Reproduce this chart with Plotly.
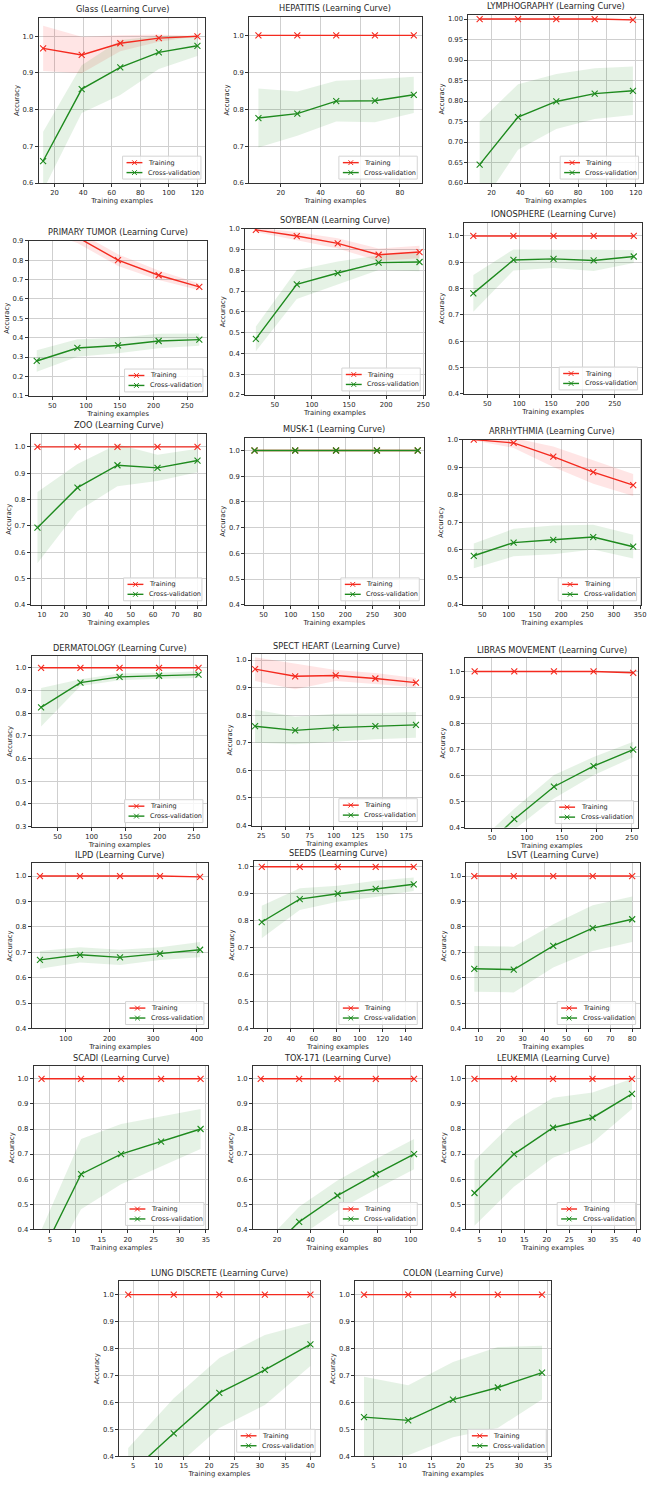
import plotly.graph_objects as go

# ---------------- data ----------------
glass_x = [12, 39, 66, 93, 120]
glass_train = [0.967, 0.949, 0.981, 0.995, 1.0]
glass_train_std = [0.062, 0.05, 0.022, 0.01, 0.0]
glass_cv = [0.66, 0.856, 0.915, 0.956, 0.974]
glass_cv_std = [0.08, 0.065, 0.075, 0.045, 0.028]

hep_x = [8.7, 28.3, 47.9, 67.4, 87]
hep_train = [1.0, 1.0, 1.0, 1.0, 1.0]
hep_train_std = [0.0, 0.0, 0.0, 0.0, 0.0]
hep_cv = [0.776, 0.788, 0.822, 0.823, 0.839]
hep_cv_std = [0.08, 0.06, 0.055, 0.058, 0.049]

lym_x = [11.8, 38.4, 64.9, 91.5, 118]
lym_train = [1.0, 1.0, 1.0, 1.0, 0.998]
lym_train_std = [0.0, 0.0, 0.0, 0.0, 0.003]
lym_cv = [0.645, 0.761, 0.799, 0.818, 0.825]
lym_cv_std = [0.105, 0.08, 0.067, 0.062, 0.059]

pt_x = [26.8, 87.1, 147.4, 207.7, 268]
pt_train = [0.99, 0.918, 0.80, 0.722, 0.662]
pt_train_std = [0.03, 0.03, 0.03, 0.025, 0.017]
pt_cv = [0.28, 0.347, 0.36, 0.383, 0.39]
pt_cv_std = [0.055, 0.045, 0.04, 0.037, 0.032]

soy_x = [24.5, 79.6, 134.8, 189.9, 245]
soy_train = [0.995, 0.965, 0.93, 0.875, 0.888]
soy_train_std = [0.01, 0.02, 0.025, 0.03, 0.03]
soy_cv = [0.47, 0.732, 0.787, 0.837, 0.84]
soy_cv_std = [0.06, 0.07, 0.055, 0.035, 0.045]

ion_x = [28, 91, 154, 217, 280]
ion_train = [1.0, 1.0, 1.0, 1.0, 1.0]
ion_train_std = [0.0, 0.0, 0.0, 0.0, 0.0]
ion_cv = [0.782, 0.909, 0.913, 0.907, 0.922]
ion_cv_std = [0.07, 0.04, 0.035, 0.04, 0.025]

zoo_x = [8, 26, 44, 62, 80]
zoo_train = [1.0, 1.0, 1.0, 1.0, 1.0]
zoo_train_std = [0.0, 0.0, 0.0, 0.0, 0.0]
zoo_cv = [0.693, 0.845, 0.93, 0.92, 0.948]
zoo_cv_std = [0.135, 0.09, 0.08, 0.05, 0.045]

musk_x = [33.3, 108, 183, 258, 333]
musk_train = [1.0, 1.0, 1.0, 1.0, 1.0]
musk_train_std = [0.0, 0.0, 0.0, 0.0, 0.0]
musk_cv = [1.0, 1.0, 1.0, 1.0, 1.0]
musk_cv_std = [0.0, 0.0, 0.0, 0.0, 0.0]

arr_x = [33.7, 109.5, 185, 261, 337]
arr_train = [1.0, 0.988, 0.938, 0.882, 0.835]
arr_train_std = [0.003, 0.018, 0.037, 0.042, 0.04]
arr_cv = [0.578, 0.626, 0.636, 0.646, 0.611]
arr_cv_std = [0.045, 0.05, 0.052, 0.045, 0.043]

derm_x = [25.7, 83.5, 141, 199, 257]
derm_train = [1.0, 1.0, 1.0, 1.0, 1.0]
derm_train_std = [0.0, 0.0, 0.0, 0.0, 0.0]
derm_cv = [0.826, 0.935, 0.96, 0.965, 0.97]
derm_cv_std = [0.085, 0.015, 0.015, 0.013, 0.015]

spect_x = [18.5, 60, 102, 143, 185]
spect_train = [0.967, 0.941, 0.944, 0.933, 0.918]
spect_train_std = [0.043, 0.047, 0.02, 0.02, 0.017]
spect_cv = [0.76, 0.745, 0.755, 0.76, 0.765]
spect_cv_std = [0.06, 0.05, 0.05, 0.047, 0.047]

lib_x = [25.2, 81.9, 138.6, 195.3, 252]
lib_train = [1.0, 1.0, 1.0, 1.0, 0.995]
lib_train_std = [0.0, 0.0, 0.0, 0.0, 0.0]
lib_cv = [0.29, 0.432, 0.557, 0.636, 0.70]
lib_cv_std = [0.04, 0.04, 0.045, 0.035, 0.03]

ilpd_x = [40.8, 132.6, 224.4, 316, 408]
ilpd_train = [1.0, 1.0, 1.0, 1.0, 0.997]
ilpd_train_std = [0.0, 0.0, 0.0, 0.0, 0.002]
ilpd_cv = [0.67, 0.69, 0.68, 0.695, 0.71]
ilpd_cv_std = [0.035, 0.03, 0.03, 0.025, 0.03]

seeds_x = [14.7, 47.8, 80.9, 113.9, 147]
seeds_train = [1.0, 1.0, 1.0, 1.0, 1.0]
seeds_train_std = [0.0, 0.0, 0.0, 0.0, 0.0]
seeds_cv = [0.795, 0.88, 0.90, 0.918, 0.935]
seeds_cv_std = [0.06, 0.04, 0.03, 0.03, 0.025]

lsvt_x = [8, 26, 44, 62, 80]
lsvt_train = [1.0, 1.0, 1.0, 1.0, 1.0]
lsvt_train_std = [0.0, 0.0, 0.0, 0.0, 0.0]
lsvt_cv = [0.635, 0.632, 0.725, 0.795, 0.83]
lsvt_cv_std = [0.09, 0.09, 0.085, 0.09, 0.09]

scadi_x = [3.4, 11, 18.7, 26.4, 34]
scadi_train = [1.0, 1.0, 1.0, 1.0, 1.0]
scadi_train_std = [0.0, 0.0, 0.0, 0.0, 0.0]
scadi_cv = [0.30, 0.62, 0.70, 0.75, 0.80]
scadi_cv_std = [0.1, 0.14, 0.12, 0.1, 0.08]

tox_x = [10.2, 33.2, 56.1, 79.1, 102]
tox_train = [1.0, 1.0, 1.0, 1.0, 1.0]
tox_train_std = [0.0, 0.0, 0.0, 0.0, 0.0]
tox_cv = [0.28, 0.43, 0.535, 0.62, 0.70]
tox_cv_std = [0.05, 0.06, 0.06, 0.06, 0.06]

leuk_x = [3.9, 12.7, 21.4, 30.2, 39]
leuk_train = [1.0, 1.0, 1.0, 1.0, 1.0]
leuk_train_std = [0.0, 0.0, 0.0, 0.0, 0.0]
leuk_cv = [0.545, 0.70, 0.805, 0.845, 0.94]
leuk_cv_std = [0.13, 0.13, 0.12, 0.1, 0.06]

lung_x = [4, 13, 22, 31, 40]
lung_train = [1.0, 1.0, 1.0, 1.0, 1.0]
lung_train_std = [0.0, 0.0, 0.0, 0.0, 0.0]
lung_cv = [0.33, 0.485, 0.635, 0.72, 0.815]
lung_cv_std = [0.1, 0.13, 0.13, 0.13, 0.08]

colon_x = [3.4, 11, 18.7, 26.4, 34]
colon_train = [1.0, 1.0, 1.0, 1.0, 1.0]
colon_train_std = [0.0, 0.0, 0.0, 0.0, 0.0]
colon_cv = [0.545, 0.533, 0.61, 0.655, 0.71]
colon_cv_std = [0.15, 0.13, 0.14, 0.15, 0.1]

# tick values
yt_01 = [0.6, 0.7, 0.8, 0.9, 1.0]
yt_005 = [0.60, 0.65, 0.70, 0.75, 0.80, 0.85, 0.90, 0.95, 1.00]
yt_pt = [0.1, 0.2, 0.3, 0.4, 0.5, 0.6, 0.7, 0.8, 0.9]
yt_soy = [0.2, 0.3, 0.4, 0.5, 0.6, 0.7, 0.8, 0.9, 1.0]
yt_04 = [0.4, 0.5, 0.6, 0.7, 0.8, 0.9, 1.0]
yt_03 = [0.3, 0.4, 0.5, 0.6, 0.7, 0.8, 0.9, 1.0]

titles = ["Glass (Learning Curve)", "HEPATITIS (Learning Curve)", "LYMPHOGRAPHY (Learning Curve)",
          "PRIMARY TUMOR (Learning Curve)", "SOYBEAN (Learning Curve)", "IONOSPHERE (Learning Curve)",
          "ZOO (Learning Curve)", "MUSK-1 (Learning Curve)", "ARRHYTHMIA (Learning Curve)",
          "DERMATOLOGY (Learning Curve)", "SPECT HEART (Learning Curve)", "LIBRAS MOVEMENT (Learning Curve)",
          "ILPD (Learning Curve)", "SEEDS (Learning Curve)", "LSVT (Learning Curve)",
          "SCADI (Learning Curve)", "TOX-171 (Learning Curve)", "LEUKEMIA (Learning Curve)",
          "LUNG DISCRETE (Learning Curve)", "COLON (Learning Curve)"]
legend_labels = ["Training", "Cross-validation"]

series = [
    (glass_x, glass_train, glass_train_std, glass_cv, glass_cv_std),
    (hep_x, hep_train, hep_train_std, hep_cv, hep_cv_std),
    (lym_x, lym_train, lym_train_std, lym_cv, lym_cv_std),
    (pt_x, pt_train, pt_train_std, pt_cv, pt_cv_std),
    (soy_x, soy_train, soy_train_std, soy_cv, soy_cv_std),
    (ion_x, ion_train, ion_train_std, ion_cv, ion_cv_std),
    (zoo_x, zoo_train, zoo_train_std, zoo_cv, zoo_cv_std),
    (musk_x, musk_train, musk_train_std, musk_cv, musk_cv_std),
    (arr_x, arr_train, arr_train_std, arr_cv, arr_cv_std),
    (derm_x, derm_train, derm_train_std, derm_cv, derm_cv_std),
    (spect_x, spect_train, spect_train_std, spect_cv, spect_cv_std),
    (lib_x, lib_train, lib_train_std, lib_cv, lib_cv_std),
    (ilpd_x, ilpd_train, ilpd_train_std, ilpd_cv, ilpd_cv_std),
    (seeds_x, seeds_train, seeds_train_std, seeds_cv, seeds_cv_std),
    (lsvt_x, lsvt_train, lsvt_train_std, lsvt_cv, lsvt_cv_std),
    (scadi_x, scadi_train, scadi_train_std, scadi_cv, scadi_cv_std),
    (tox_x, tox_train, tox_train_std, tox_cv, tox_cv_std),
    (leuk_x, leuk_train, leuk_train_std, leuk_cv, leuk_cv_std),
    (lung_x, lung_train, lung_train_std, lung_cv, lung_cv_std),
    (colon_x, colon_train, colon_train_std, colon_cv, colon_cv_std),
]

yticks = [yt_01, yt_01, yt_005, yt_pt, yt_soy, yt_04, yt_04, yt_04, yt_04, yt_03,
          yt_04, yt_04, yt_04, yt_04, yt_04, yt_04, yt_04, yt_04, yt_04, yt_04]
xdticks = [20, 20, 20, 50, 50, 50, 10, 50, 50, 50, 25, 50, 100, 20, 10, 5, 20, 5, 5, 5]

# ---------------- layout (pixel boxes: left, right, top, bottom) ----------------
W, H = 653, 1492
boxes = [
    (39, 207, 14, 180), (251, 425, 13, 180), (472, 648, 11, 180),
    (29, 209, 238, 394), (247, 428, 226, 393), (468, 647, 220, 392),
    (31, 208, 432, 604), (247, 427, 436, 604), (467, 646, 438, 604),
    (32, 209, 656, 827), (254, 425, 654, 826), (469, 643, 658, 828),
    (32, 210, 864, 1030), (256, 425, 862, 1030), (470, 645, 864, 1030),
    (34, 210, 1068, 1232), (255, 425, 1068, 1232), (470, 645, 1068, 1232),
    (120, 322, 1284, 1460), (358, 555, 1284, 1460),
]
xranges = [(8.9, 125.6), (4, 91), (4, 125), (15, 280), (10, 252), (14, 293),
           (5, 84), (16, 344), (14, 352), (12, 270), (15.4, 191), (12, 259),
           (22, 427), (8, 154), (4.4, 83.6), (1.9, 35.5), (5.6, 106.6), (2.1, 40.8),
           (2.2, 41.8), (1.9, 35.5)]
yranges = [(0.6, 1.05), (0.6, 1.05), (0.6, 1.01), (0.1, 0.9), (0.2, 1.0), (0.4, 1.05),
           (0.4, 1.05), (0.4, 1.05), (0.4, 1.0), (0.3, 1.05), (0.4, 1.02), (0.4, 1.05),
           (0.4, 1.05), (0.4, 1.02), (0.4, 1.05), (0.4, 1.05), (0.4, 1.05), (0.4, 1.05),
           (0.4, 1.05), (0.4, 1.05)]

RED = "#f42a1f"
GREEN = "#1e8a1e"
RED_FILL = "rgba(255,0,0,0.10)"
GREEN_FILL = "rgba(0,128,0,0.10)"
FONT = "DejaVu Sans"
TXT = "#262626"

fig = go.Figure()
layout = dict(width=W, height=H, margin=dict(l=0, r=0, t=0, b=0),
              paper_bgcolor="white", plot_bgcolor="white", showlegend=False,
              font=dict(family=FONT, color=TXT))
annotations = []
shapes = []


def px(xp):
    return xp / W


def py(yp):
    return 1 - yp / H


for i, (title, (x, tr, trs, cv, cvs), box, xr, yr, yt, dt) in enumerate(
        zip(titles, series, boxes, xranges, yranges, yticks, xdticks)):
    n = i + 1
    xa = "x" if n == 1 else f"x{n}"
    ya = "y" if n == 1 else f"y{n}"
    tr_up = [m + s for m, s in zip(tr, trs)]
    tr_lo = [m - s for m, s in zip(tr, trs)]
    cv_up = [m + s for m, s in zip(cv, cvs)]
    cv_lo = [m - s for m, s in zip(cv, cvs)]
    fig.add_trace(go.Scatter(x=list(x) + list(x)[::-1], y=tr_up + tr_lo[::-1], fill="toself",
                             fillcolor=RED_FILL, line=dict(width=0), mode="lines",
                             hoverinfo="skip", xaxis=xa, yaxis=ya))
    fig.add_trace(go.Scatter(x=list(x) + list(x)[::-1], y=cv_up + cv_lo[::-1], fill="toself",
                             fillcolor=GREEN_FILL, line=dict(width=0), mode="lines",
                             hoverinfo="skip", xaxis=xa, yaxis=ya))
    fig.add_trace(go.Scatter(x=x, y=tr, mode="lines+markers", name=legend_labels[0],
                             line=dict(color=RED, width=1.4),
                             marker=dict(symbol="x-thin", size=6, line=dict(color=RED, width=1.1)),
                             xaxis=xa, yaxis=ya))
    fig.add_trace(go.Scatter(x=x, y=cv, mode="lines+markers", name=legend_labels[1],
                             line=dict(color=GREEN, width=1.4),
                             marker=dict(symbol="x-thin", size=6, line=dict(color=GREEN, width=1.1)),
                             xaxis=xa, yaxis=ya))

    l, r, t, b = box
    axcommon = dict(showline=True, linecolor="#333", linewidth=1, mirror=True,
                    showgrid=True, gridcolor="#cfcfcf", gridwidth=1, zeroline=False,
                    ticks="outside", ticklen=3, tickcolor="#333",
                    tickfont=dict(size=6.8, family=FONT, color=TXT))
    layout["xaxis" if n == 1 else f"xaxis{n}"] = dict(
        axcommon, domain=[px(l), px(r)], anchor=ya, range=list(xr), dtick=dt, tick0=0,
        title=dict(text="Training examples", font=dict(size=6.8, family=FONT, color=TXT), standoff=1))
    fmt = ".2f" if yt is yt_005 else ".1f"
    layout["yaxis" if n == 1 else f"yaxis{n}"] = dict(
        axcommon, domain=[py(b), py(t)], anchor=xa, range=list(yr),
        tickvals=yt, tickformat=fmt,
        title=dict(text="Accuracy", font=dict(size=6.8, family=FONT, color=TXT), standoff=2))
    annotations.append(dict(text=title, x=px((l + r) / 2), y=py(t - 1.5), xref="paper",
                            yref="paper", xanchor="center", yanchor="bottom", showarrow=False,
                            font=dict(size=8.2, family=FONT, color=TXT)))

    # legend box (matplotlib style, lower right)
    lr, lb = r - 4.5, b - 4
    ll, lt = lr - 79, lb - 23
    shapes.append(dict(type="rect", xref="paper", yref="paper", x0=px(ll), x1=px(lr),
                       y0=py(lb), y1=py(lt), fillcolor="rgba(255,255,255,0.8)",
                       line=dict(color="#d4d4d4", width=1), layer="above"))
    for k, col in enumerate([RED, GREEN]):
        yy = lt + 6.5 + 10 * k
        shapes.append(dict(type="line", xref="paper", yref="paper", x0=px(ll + 4), x1=px(ll + 20),
                           y0=py(yy), y1=py(yy), line=dict(color=col, width=1.4), layer="above"))
        cx = ll + 12
        for dy in (-2.4, 2.4):
            shapes.append(dict(type="line", xref="paper", yref="paper", x0=px(cx - 2.4), x1=px(cx + 2.4),
                               y0=py(yy + dy), y1=py(yy - dy), line=dict(color=col, width=1.0),
                               layer="above"))
        annotations.append(dict(text=legend_labels[k], x=px(ll + 23.5), y=py(yy), xref="paper",
                                yref="paper", xanchor="left", yanchor="middle", showarrow=False,
                                font=dict(size=6.5, family=FONT, color=TXT)))

layout["annotations"] = annotations
layout["shapes"] = shapes
fig.update_layout(**layout)
fig.write_html("out.html", config={"displayModeBar": False},
               post_script="document.body.style.margin='0';document.body.style.overflow='hidden';")
